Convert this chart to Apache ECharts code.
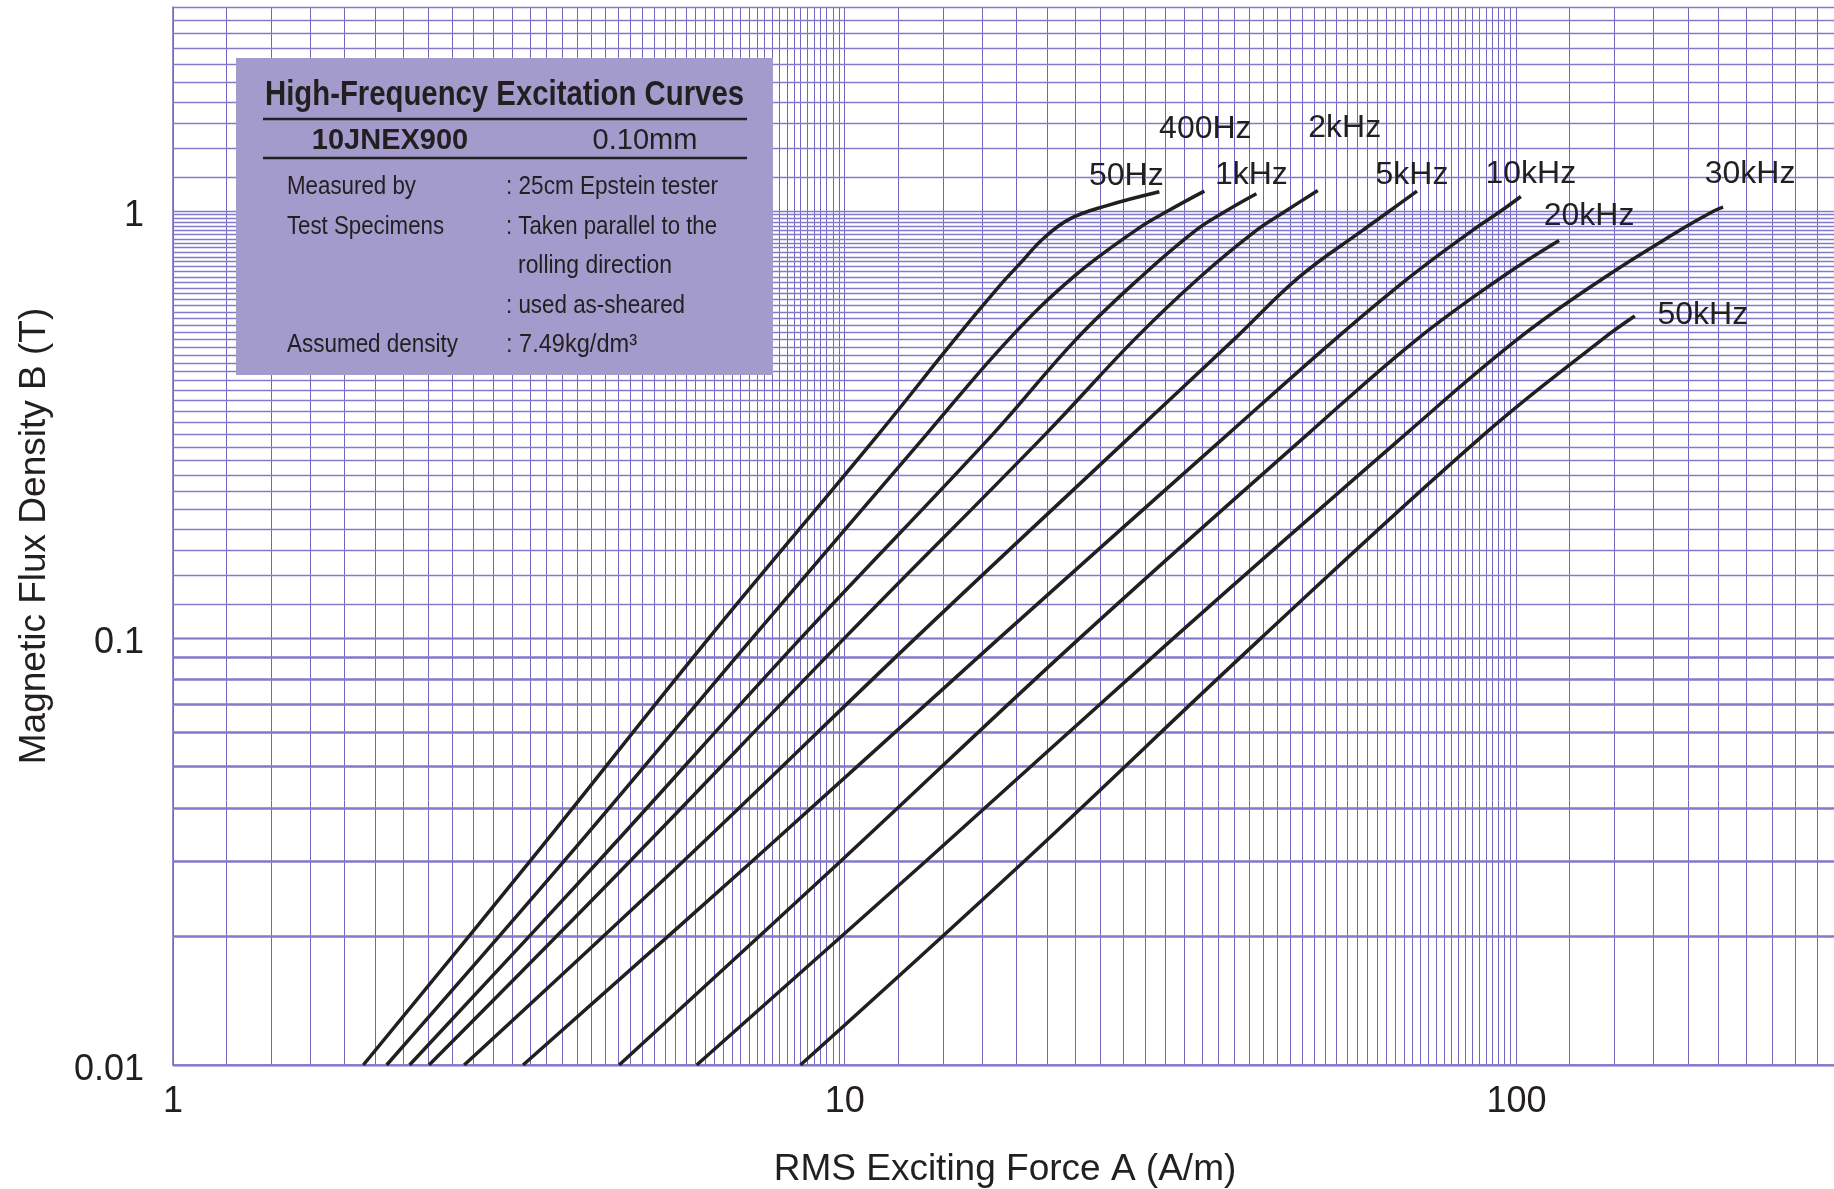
<!DOCTYPE html>
<html>
<head>
<meta charset="utf-8">
<script src="https://cdn.jsdelivr.net/npm/echarts@6/dist/echarts.min.js"></script>
<style>
html,body{margin:0;padding:0;background:#ffffff;}
#chart{width:1834px;height:1189px;}
</style>
</head>
<body>
<div id="chart"></div>
<script>
// ---------------- DATA ----------------
const seriesNames = ['50Hz','400Hz','1kHz','2kHz','5kHz','10kHz','20kHz','30kHz','50kHz'];
// [H (A/m), B (T)] pairs
const curve50Hz  = [[1.92,0.01],[3.40,0.03],[6.28,0.1],[11.23,0.3],[14.58,0.5],[17.0,0.667],[18.3,0.757],[19.7,0.858],[21.6,0.956],[24.5,1.027],[29.4,1.108]];
const curve400Hz = [[2.08,0.01],[3.82,0.03],[7.29,0.1],[13.25,0.3],[17.55,0.5],[21.9,0.7],[27.1,0.9],[30.3,1.0],[34.3,1.112]];
const curve1kHz  = [[2.25,0.01],[4.30,0.03],[8.61,0.1],[16.62,0.3],[22.1,0.5],[27.6,0.7],[33.3,0.9],[37.0,1.0],[41.0,1.096]];
const curve2kHz  = [[2.405,0.01],[4.79,0.03],[10.0,0.1],[19.9,0.3],[27.0,0.5],[33.8,0.7],[41.0,0.9],[45.4,1.0],[50.6,1.116]];
const curve5kHz  = [[2.713,0.01],[5.75,0.03],[12.76,0.1],[26.85,0.3],[37.98,0.5],[47.5,0.7],[59.0,0.9],[64.8,1.0],[71.1,1.112]];
const curve10kHz = [[3.32,0.01],[7.28,0.03],[17.0,0.1],[37.2,0.3],[53.7,0.5],[69.4,0.7],[86.0,0.9],[94.9,1.0],[101.5,1.08]];
const curve20kHz = [[4.615,0.01],[9.86,0.03],[22.4,0.1],[48.9,0.3],[71.1,0.5],[95.2,0.7],[115.7,0.852]];
const curve30kHz = [[6.02,0.01],[13.2,0.03],[30.9,0.1],[68.4,0.3],[100.3,0.5],[135.6,0.7],[175,0.9],[197,1.0],[203,1.02]];
const curve50kHz = [[8.59,0.01],[18.5,0.03],[41.7,0.1],[89.6,0.3],[134.2,0.5],[150,0.567]];
const curves = [curve50Hz,curve400Hz,curve1kHz,curve2kHz,curve5kHz,curve10kHz,curve20kHz,curve30kHz,curve50kHz];

const xTickValues = [1,10,100];
const xTickLabels = ['1','10','100'];
const yTickValues = [0.01,0.1,1];
const yTickLabels = ['0.01','0.1','1'];

// grid of the log paper: [from, to, step]
const xGridRanges = [[1,10,0.2],[10,100,2],[100,300,20]];
const yGridRanges = [[0.01,0.1,0.002],[0.1,1,0.02],[1,3,0.2]];

// ---------------- STYLE / LAYOUT ----------------
const FONT = '"Liberation Sans", Arial, Helvetica, sans-serif';
const INK = '#231f20';
const GRID_V = '#7068c0';
const GRID_H = '#827bcb';
// label offsets (px) relative to each curve's end point
const labelOffsets = [[-33,-16],[1,-62],[-5,-19],[27,-62],[-5,-16],[10,-22],[30,-24],[27,-33],[68,-1]];

function gridValues(ranges){
  const out = [];
  ranges.forEach(([a,b,s],ri)=>{
    const n = Math.round((b-a)/s);
    for(let i=(ri===0?0:1);i<=n;i++){ out.push(+(a+i*s).toPrecision(6)); }
  });
  return out;
}
const xGrid = gridValues(xGridRanges);
const yGrid = gridValues(yGridRanges);

function tickFormatter(values, labels, rich){
  return function(v){
    for(let i=0;i<values.length;i++){
      if(Math.abs(Math.log10(v)-Math.log10(values[i]))<1e-6) return rich ? '{t|' + labels[i] + '}' : labels[i];
    }
    return '';
  };
}

const chart = echarts.init(document.getElementById('chart'), null, {renderer:'canvas'});

const gridMarkData = [];
xGrid.forEach(v=>gridMarkData.push({xAxis:v, lineStyle:{color:GRID_V,width:1,type:'solid'}}));
yGrid.forEach(v=>gridMarkData.push({yAxis:v, lineStyle:{color:GRID_H,width:1.3,type:'solid'}}));

const series = [{
  type:'line', name:'grid', data:[[1,0.01]], silent:true, z:1,
  symbol:'none', lineStyle:{opacity:0}, animation:false,
  markLine:{ silent:true, symbol:['none','none'], z:1, animation:false,
    label:{show:false}, emphasis:{disabled:true}, data:gridMarkData }
}];
seriesNames.forEach((name,i)=>{
  const d = curves[i];
  series.push({
    type:'line', name:name, data:d, z:5,
    showSymbol:false, symbol:'none', smooth:0.4,
    lineStyle:{color:INK,width:3.5}, animation:false, silent:true,
    markPoint:{ silent:true, animation:false, z:6,
      data:[{coord:d[d.length-1], symbol:'circle', symbolSize:0,
        label:{show:true, position:'inside', formatter:name, offset:labelOffsets[i],
          color:INK, fontSize:32, fontFamily:FONT}}]
    }
  });
});

// ----- info box (graphic) -----
const mctx = document.createElement('canvas').getContext('2d');
function fit(text, font, target){ mctx.font = font; return target / mctx.measureText(text).width; }
function boxText(text, left, cy, size, weight, target){
  const font = weight + ' ' + size + 'px ' + FONT;
  const sx = target ? fit(text, font, target) : 1;
  return {type:'text', x:left, y:cy, scaleX:sx, z:101, silent:true,
    style:{text:text, fill:INK, fontSize:size, fontWeight:weight, fontFamily:FONT,
      textAlign:'left', textVerticalAlign:'middle'}};
}
function boxTextCenter(text, cx, cy, size, weight){
  return {type:'text', x:cx, y:cy, z:101, silent:true,
    style:{text:text, fill:INK, fontSize:size, fontWeight:weight, fontFamily:FONT,
      textAlign:'center', textVerticalAlign:'middle'}};
}
const graphics = [
  {type:'rect', z:100, silent:true, shape:{x:236,y:58,width:537,height:317}, style:{fill:'#a29bcb'}},
  boxText('High-Frequency Excitation Curves', 265, 95, 35, 'bold', 479),
  {type:'line', z:101, silent:true, shape:{x1:263,y1:119,x2:747,y2:119}, style:{stroke:INK,lineWidth:2.5}},
  boxTextCenter('10JNEX900', 390, 141, 29, 'bold'),
  boxTextCenter('0.10mm', 645, 141, 29, 'normal'),
  {type:'line', z:101, silent:true, shape:{x1:263,y1:158,x2:747,y2:158}, style:{stroke:INK,lineWidth:2.5}},
  boxText('Measured by', 287, 187, 25, 'normal', 129),
  boxText(': 25cm Epstein tester', 506, 187, 25, 'normal', 212),
  boxText('Test Specimens', 287, 227, 25, 'normal', 157),
  boxText(': Taken parallel to the', 506, 227, 25, 'normal', 211),
  boxText('rolling direction', 518, 266, 25, 'normal', 154),
  boxText(': used as-sheared', 506, 306, 25, 'normal', 179),
  boxText('Assumed density', 287, 345, 25, 'normal', 171),
  boxText(': 7.49kg/dm\u00B3', 506, 345, 25, 'normal', 131)
];

const option = {
  backgroundColor:'#ffffff',
  animation:false,
  grid:{left:173, top:7, width:1664, height:1058, containLabel:false, outerBoundsMode:'none'},
  xAxis:{
    type:'log', logBase:10, min:1, max:300,
    axisLine:{show:true, lineStyle:{color:GRID_V,width:1.5}},
    axisTick:{show:false}, splitLine:{show:false}, minorSplitLine:{show:false},
    axisLabel:{formatter:tickFormatter(xTickValues,xTickLabels,false), color:INK, fontSize:36, fontFamily:FONT, margin:19, showMaxLabel:false},
    name:'RMS Exciting Force A (A/m)', nameLocation:'middle', nameGap:86,
    nameTextStyle:{color:INK, fontSize:37, fontFamily:FONT}
  },
  yAxis:{
    type:'log', logBase:10, min:0.01, max:3,
    axisLine:{show:true, lineStyle:{color:GRID_V,width:1.5}},
    axisTick:{show:false}, splitLine:{show:false}, minorSplitLine:{show:false},
    axisLabel:{formatter:tickFormatter(yTickValues,yTickLabels,true), color:INK, fontSize:36, fontFamily:FONT, margin:29, showMaxLabel:false,
      rich:{t:{color:INK, fontSize:36, fontFamily:FONT, padding:[10,0,0,0]}}},
    name:'Magnetic Flux Density B (T)', nameLocation:'middle', nameGap:120,
    nameTextStyle:{color:INK, fontSize:37, fontFamily:FONT}
  },
  series:series,
  graphic:{elements:graphics}
};
chart.setOption(option);
</script>
</body>
</html>
